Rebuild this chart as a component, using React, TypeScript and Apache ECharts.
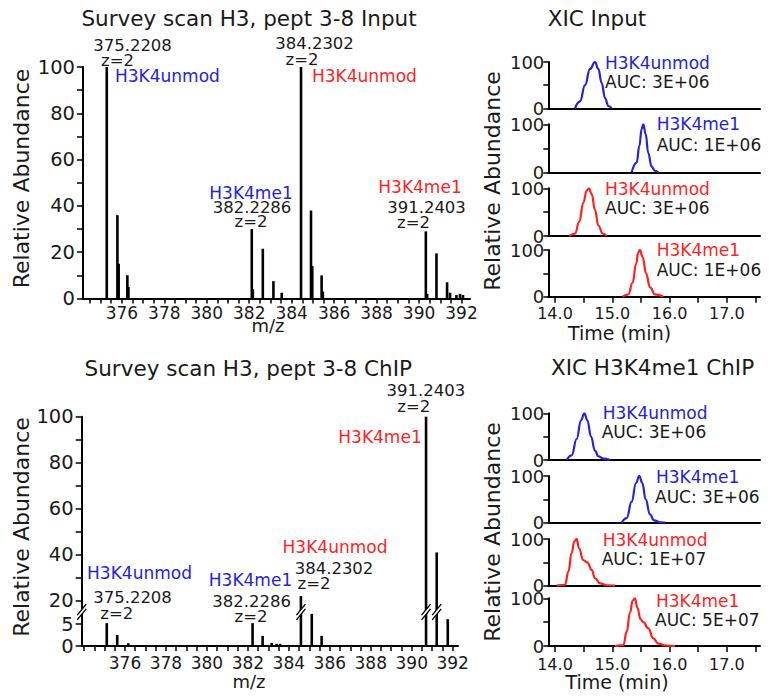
import React, { useEffect, useRef } from 'react';
import * as echarts from 'echarts';

// ---------------- data ----------------
// Survey scan, Input (m/z, relative abundance)
const INPUT_MZ = [375.29, 375.79, 375.85, 376.26, 376.31, 382.12, 382.17, 382.64, 383.14, 383.53, 384.44, 384.91, 384.97, 385.41, 385.47, 390.32, 390.38, 390.82, 391.32, 391.46, 391.76, 391.93, 392.07];
const INPUT_ABUND = [100, 36, 15, 10, 5, 30, 4, 21.5, 7.5, 2.5, 100, 38, 14, 10, 3, 29, 2, 19.5, 7, 2.5, 1.5, 2, 1.5];
// Survey scan, ChIP
const CHIP_MZ = [375.11, 375.62, 376.16, 382.23, 382.72, 383.16, 383.4, 383.57, 384.59, 385.12, 385.6, 390.7, 391.22, 391.76];
const CHIP_ABUND = [5.2, 2.5, 0.6, 5.2, 2.3, 0.7, 0.5, 0.5, 22, 7.3, 2.3, 100, 41, 6.1];

const MZ_LABELS = [376, 378, 380, 382, 384, 386, 388, 390, 392];
const ABUND_LABELS = [0, 20, 40, 60, 80, 100];
const ABUND_UPPER_LABELS = [20, 40, 60, 80, 100];
const ABUND_LOWER_LABELS = [0, 5];
const TIME_LABELS = [14, 15, 16, 17];
const XIC_LABELS = [0, 100];

const PEAK_MZ_TEXT = ['375.2208', '382.2286', '384.2302', '391.2403'];
const CHARGE_TEXT = 'z=2';
const PEPTIDES = ['H3K4unmod', 'H3K4me1'];

// XIC traces: time (min), relative abundance
const IN_UNMOD_L_T = [14.349, 14.436, 14.524, 14.611, 14.698, 14.756, 14.814, 14.873, 14.931, 14.989];
const IN_UNMOD_L_I = [0, 15, 50, 85, 100, 85, 55, 22, 5, 0];
const IN_ME1_L_T = [15.338, 15.425, 15.472, 15.512, 15.541, 15.582, 15.628, 15.686, 15.745, 15.803];
const IN_ME1_L_I = [0, 20, 55, 90, 100, 80, 40, 12, 3, 0];
const IN_UNMOD_H_T = [14.25, 14.349, 14.424, 14.494, 14.553, 14.593, 14.64, 14.698, 14.756, 14.832, 14.902];
const IN_UNMOD_H_I = [0, 5, 30, 70, 95, 100, 88, 55, 22, 5, 0];
const IN_ME1_H_T = [15.181, 15.28, 15.355, 15.414, 15.454, 15.483, 15.53, 15.588, 15.658, 15.745, 15.89];
const IN_ME1_H_I = [0, 5, 30, 70, 95, 100, 85, 50, 20, 5, 0];

const CH_UNMOD_L_T = [14.204, 14.291, 14.378, 14.454, 14.512, 14.565, 14.628, 14.698, 14.756, 14.843, 14.96];
const CH_UNMOD_L_I = [0, 10, 45, 85, 100, 85, 50, 20, 8, 3, 0];
const CH_ME1_L_T = [15.164, 15.251, 15.338, 15.414, 15.472, 15.524, 15.582, 15.658, 15.728, 15.832, 15.92];
const CH_ME1_L_I = [0, 10, 45, 85, 100, 85, 50, 18, 5, 1, 0];
const CH_UNMOD_H_T = [14.029, 14.175, 14.233, 14.291, 14.337, 14.378, 14.419, 14.494, 14.565, 14.64, 14.698, 14.785, 14.902, 15.047];
const CH_UNMOD_H_I = [0, 2, 30, 70, 95, 100, 80, 55, 50, 34, 16, 5, 1, 0];
const CH_ME1_H_T = [15.047, 15.193, 15.251, 15.309, 15.355, 15.396, 15.437, 15.495, 15.541, 15.628, 15.716, 15.803, 15.92, 16.094];
const CH_ME1_H_I = [0, 2, 30, 70, 95, 100, 80, 56, 50, 37, 16, 5, 1, 0];

const INPUT_AUC = ['3E+06', '1E+06', '3E+06', '1E+06'];
const CHIP_AUC = ['3E+06', '3E+06', '1E+07', '5E+07'];

// ---------------- layout / style ----------------
const FONT = '"DejaVu Sans", sans-serif';
const INK = '#1a1a1a';
const BLUE = '#2323d9';
const RED = '#ff1f1f';
const LOWER_MAX = 7.73; // broken axis: lower segment top
const UPPER_MIN = 15.1; // broken axis: upper segment bottom

const zip = (a: number[], b: number[]) => a.map((x, i) => [x, b[i]]);
const steps = (a: number, b: number, s: number) => {
  const r: number[] = [];
  for (let v = a; v <= b + 1e-9; v += s) r.push(+v.toFixed(3));
  return r;
};

const lineStyle = { color: '#000', width: 2 };

function stickRender(lo: number, hi: number) {
  return (params: any, api: any) => {
    const m = api.value(0);
    const v = api.value(1);
    if (v <= lo) return { type: 'group', children: [] };
    const a = api.coord([m, lo]);
    const b = api.coord([m, Math.min(v, hi)]);
    return {
      type: 'rect',
      shape: { x: a[0] - 1.3, y: b[1], width: 2.6, height: a[1] - b[1] },
      style: { fill: '#000' },
    };
  };
}

function breakRender(params: any, api: any) {
  const m = api.value(0);
  const p = api.coord([m, LOWER_MAX]);
  const cx = p[0];
  const cy = p[1];
  const dx = 4.5;
  const dy = 5.5;
  const g = 2.4;
  return {
    type: 'group',
    children: [
      {
        type: 'polygon',
        shape: { points: [[cx - dx, cy + dy - g], [cx + dx, cy - dy - g], [cx + dx, cy - dy + g], [cx - dx, cy + dy + g]] },
        style: { fill: '#fff' },
      },
      { type: 'line', shape: { x1: cx - dx, y1: cy + dy - g, x2: cx + dx, y2: cy - dy - g }, style: { stroke: '#000', lineWidth: 1.4 } },
      { type: 'line', shape: { x1: cx - dx, y1: cy + dy + g, x2: cx + dx, y2: cy - dy + g }, style: { stroke: '#000', lineWidth: 1.4 } },
    ],
  };
}

const XIC_X_MIN = 13.883;
const XIC_X_MAX = 17.578;
const XIC_LEFT = 548.3;
const XIC_WIDTH = 211.7;
const XIC_TOP_GRIDS = [[62, 46.3], [124.3, 48], [188.3, 47.7], [250, 46.7]];
const XIC_BOT_GRIDS = [[413.3, 46.7], [476, 46.7], [539, 46.7], [598.3, 47.7]];
const XIC_COLORS = [BLUE, BLUE, RED, RED];

const XIC_INPUT = [zip(IN_UNMOD_L_T, IN_UNMOD_L_I), zip(IN_ME1_L_T, IN_ME1_L_I), zip(IN_UNMOD_H_T, IN_UNMOD_H_I), zip(IN_ME1_H_T, IN_ME1_H_I)];
const XIC_CHIP = [zip(CH_UNMOD_L_T, CH_UNMOD_L_I), zip(CH_ME1_L_T, CH_ME1_L_I), zip(CH_UNMOD_H_T, CH_UNMOD_H_I), zip(CH_ME1_H_T, CH_ME1_H_I)];

const XIC_NAME_POS_TOP = [[605, 62.7], [656.7, 124.3], [605, 189.3], [656.7, 250]];
const XIC_AUC_POS_TOP = [[605, 81.7], [656.7, 145], [605, 208.3], [656.7, 270]];
const XIC_NAME_POS_BOT = [[602.7, 412.7], [656, 476.7], [602.7, 540], [656, 600.7]];
const XIC_AUC_POS_BOT = [[601.7, 431.7], [655, 496.7], [601.7, 559.3], [655, 620]];

type T = [string, number, number, string, number, string];

function buildTexts(): T[] {
  const t: T[] = [];
  // titles
  t.push(['Survey scan H3, pept 3-8 Input', 249, 18.5, INK, 21.5, 'center']);
  t.push(['XIC Input', 597, 18.5, INK, 21.5, 'center']);
  t.push(['Survey scan H3, pept 3-8 ChIP', 248.3, 368.5, INK, 21.5, 'center']);
  t.push(['XIC H3K4me1 ChIP', 652.5, 367, INK, 21.5, 'center']);
  // axis names
  t.push(['m/z', 268, 325, INK, 18, 'center']);
  t.push(['m/z', 249, 681, INK, 18, 'center']);
  t.push(['Time (min)', 619.5, 333, INK, 19, 'center']);
  t.push(['Time (min)', 617, 681.7, INK, 19, 'center']);
  // top-left peak annotations
  t.push([PEAK_MZ_TEXT[0], 132.5, 45.5, INK, 16.5, 'center']);
  t.push([CHARGE_TEXT, 117.5, 60.5, INK, 16.5, 'center']);
  t.push([PEPTIDES[0], 115, 76, BLUE, 17, 'left']);
  t.push([PEPTIDES[1], 251, 192.5, BLUE, 17, 'center']);
  t.push([PEAK_MZ_TEXT[1], 252, 207, INK, 16.5, 'center']);
  t.push([CHARGE_TEXT, 251, 221.5, INK, 16.5, 'center']);
  t.push([PEAK_MZ_TEXT[2], 314.5, 43.5, INK, 16.5, 'center']);
  t.push([CHARGE_TEXT, 302, 59, INK, 16.5, 'center']);
  t.push([PEPTIDES[0], 312, 75.5, RED, 17, 'left']);
  t.push([PEPTIDES[1], 420, 186.5, RED, 17, 'center']);
  t.push([PEAK_MZ_TEXT[3], 426.5, 207, INK, 16.5, 'center']);
  t.push([CHARGE_TEXT, 413.5, 222, INK, 16.5, 'center']);
  // bottom-left peak annotations
  t.push([PEPTIDES[0], 139.5, 573.3, BLUE, 17, 'center']);
  t.push([PEAK_MZ_TEXT[0], 132.5, 597.3, INK, 16.5, 'center']);
  t.push([CHARGE_TEXT, 116.7, 613.3, INK, 16.5, 'center']);
  t.push([PEPTIDES[1], 250.5, 580, BLUE, 17, 'center']);
  t.push([PEAK_MZ_TEXT[1], 251.7, 601.7, INK, 16.5, 'center']);
  t.push([CHARGE_TEXT, 251, 616.7, INK, 16.5, 'center']);
  t.push([PEPTIDES[0], 335, 546.7, RED, 17, 'center']);
  t.push([PEAK_MZ_TEXT[2], 334, 568.3, INK, 16.5, 'center']);
  t.push([CHARGE_TEXT, 314, 583.3, INK, 16.5, 'center']);
  t.push([PEAK_MZ_TEXT[3], 425.8, 390, INK, 16.5, 'center']);
  t.push([CHARGE_TEXT, 413.8, 406.7, INK, 16.5, 'center']);
  t.push([PEPTIDES[1], 380, 436.7, RED, 17, 'center']);
  // XIC annotations
  for (let i = 0; i < 4; i++) {
    const name = PEPTIDES[i % 2];
    t.push([name, XIC_NAME_POS_TOP[i][0], XIC_NAME_POS_TOP[i][1], XIC_COLORS[i], 17, 'left']);
    t.push(['AUC: ' + INPUT_AUC[i], XIC_AUC_POS_TOP[i][0], XIC_AUC_POS_TOP[i][1], INK, 17, 'left']);
    t.push([name, XIC_NAME_POS_BOT[i][0], XIC_NAME_POS_BOT[i][1], XIC_COLORS[i], 17, 'left']);
    t.push(['AUC: ' + CHIP_AUC[i], XIC_AUC_POS_BOT[i][0], XIC_AUC_POS_BOT[i][1], INK, 17, 'left']);
  }
  return t;
}

function buildOption() {
  const grid: any[] = [
    { left: 83, top: 67, width: 387, height: 231.5 },
    { left: 81.7, top: 416.7, width: 376.3, height: 195.3 },
    { left: 81.7, top: 612, width: 376.3, height: 34 },
  ];
  XIC_TOP_GRIDS.forEach(([top, h]) => grid.push({ left: XIC_LEFT, top, width: XIC_WIDTH, height: h }));
  XIC_BOT_GRIDS.forEach(([top, h]) => grid.push({ left: XIC_LEFT, top, width: XIC_WIDTH, height: h }));
  grid.forEach((g) => { g.outerBoundsMode = 'none'; g.containLabel = false; });

  const mzLabel = (margin: number) => ({
    customValues: MZ_LABELS, fontSize: 17, fontFamily: FONT, color: INK, margin,
  });
  const xAxis: any[] = [
    {
      type: 'value', gridIndex: 0, min: 374.17, max: 392.4, splitLine: { show: false },
      axisLine: { show: true, onZero: false, lineStyle },
      axisTick: { show: true, length: 5, customValues: steps(374.5, 392, 0.5), lineStyle: { color: '#000', width: 1.5 } },
      axisLabel: mzLabel(6),
    },
    { type: 'value', gridIndex: 1, min: 373.886, max: 392.26, show: false },
    {
      type: 'value', gridIndex: 2, min: 373.886, max: 392.26, splitLine: { show: false },
      axisLine: { show: true, onZero: false, lineStyle },
      axisTick: { show: true, length: 5, customValues: steps(374, 392, 0.5), lineStyle: { color: '#000', width: 1.5 } },
      axisLabel: mzLabel(8),
    },
  ];
  const yLabel = (vals: number[]) => ({ customValues: vals, fontSize: 19.5, fontFamily: FONT, color: INK, margin: 8 });
  const yTick = (vals: number[]) => ({ show: true, length: 6, customValues: vals, lineStyle: { color: '#000', width: 1.5 } });
  const yAxis: any[] = [
    { type: 'value', gridIndex: 0, min: 0, max: 100, splitLine: { show: false }, axisLine: { show: true, onZero: false, lineStyle }, axisTick: yTick(steps(0, 100, 10)), axisLabel: yLabel(ABUND_LABELS) },
    { type: 'value', gridIndex: 1, min: UPPER_MIN, max: 100, splitLine: { show: false }, axisLine: { show: true, onZero: false, lineStyle }, axisTick: yTick(steps(20, 100, 10)), axisLabel: yLabel(ABUND_UPPER_LABELS) },
    { type: 'value', gridIndex: 2, min: 0, max: LOWER_MAX, splitLine: { show: false }, axisLine: { show: true, onZero: false, lineStyle }, axisTick: yTick([0, 5]), axisLabel: yLabel(ABUND_LOWER_LABELS) },
  ];

  const series: any[] = [
    { type: 'custom', xAxisIndex: 0, yAxisIndex: 0, renderItem: stickRender(0, 100), data: zip(INPUT_MZ, INPUT_ABUND), encode: { x: 0, y: 1 }, z: 3 },
    { type: 'custom', xAxisIndex: 1, yAxisIndex: 1, renderItem: stickRender(UPPER_MIN, 100), data: zip(CHIP_MZ, CHIP_ABUND), encode: { x: 0, y: 1 }, z: 3 },
    { type: 'custom', xAxisIndex: 2, yAxisIndex: 2, renderItem: stickRender(0, LOWER_MAX), data: zip(CHIP_MZ, CHIP_ABUND), encode: { x: 0, y: 1 }, z: 3 },
    {
      type: 'custom', xAxisIndex: 2, yAxisIndex: 2, renderItem: breakRender, z: 10,
      data: [[373.886, 0]].concat(zip(CHIP_MZ, CHIP_ABUND).filter((d) => d[1] > LOWER_MAX)),
      encode: { x: 0, y: 1 },
    },
  ];

  const addXic = (gridIdx: number, data: number[][], color: string, last: boolean, margin: number) => {
    xAxis.push({
      type: 'value', gridIndex: gridIdx, min: XIC_X_MIN, max: XIC_X_MAX, splitLine: { show: false },
      axisLine: { show: true, onZero: false, lineStyle },
      axisTick: { show: last, length: 6, customValues: steps(14, 17.5, 0.5), lineStyle: { color: '#000', width: 1.5 } },
      axisLabel: { show: last, customValues: TIME_LABELS, formatter: (v: number) => v.toFixed(1), fontSize: 16, fontFamily: FONT, color: INK, margin },
    });
    yAxis.push({
      type: 'value', gridIndex: gridIdx, min: 0, max: 100, splitLine: { show: false },
      axisLine: { show: true, onZero: false, lineStyle },
      axisTick: { show: true, length: 5, customValues: [0, 50, 100], lineStyle: { color: '#000', width: 1.5 } },
      axisLabel: { customValues: XIC_LABELS, fontSize: 18, fontFamily: FONT, color: INK, margin: 4 },
    });
    series.push({
      type: 'line', xAxisIndex: gridIdx, yAxisIndex: gridIdx, data, showSymbol: false, symbol: 'none',
      smooth: 0.45, smoothMonotone: 'x', lineStyle: { color, width: 2.2 }, z: 4,
    });
  };
  XIC_INPUT.forEach((d, i) => addXic(3 + i, d, XIC_COLORS[i], i === 3, 9));
  XIC_CHIP.forEach((d, i) => addXic(7 + i, d, XIC_COLORS[i], i === 3, 10));

  const graphic: any[] = buildTexts().map(([text, x, y, color, size, align]) => ({
    type: 'text', x, y, silent: true,
    style: { text, fill: color, font: `${size}px ${FONT}`, textAlign: align, textVerticalAlign: 'middle' },
  }));
  [[21, 178.5], [492, 181], [21, 527], [492, 532]].forEach(([x, y]) => {
    graphic.push({
      type: 'text', x, y, rotation: Math.PI / 2, silent: true,
      style: { text: 'Relative Abundance', fill: INK, font: `22px ${FONT}`, textAlign: 'center', textVerticalAlign: 'middle' },
    });
  });

  return {
    animation: false,
    backgroundColor: '#ffffff',
    textStyle: { fontFamily: FONT },
    grid, xAxis, yAxis, series, graphic,
  };
}

export default function App() {
  const ref = useRef<HTMLDivElement>(null);
  useEffect(() => {
    if (!ref.current) return;
    const chart = echarts.init(ref.current, undefined, { renderer: 'svg' });
    chart.setOption(buildOption() as any);
    return () => chart.dispose();
  }, []);
  return <div ref={ref} style={{ position: 'absolute', left: 0, top: 0, width: 780, height: 698, background: '#fff' }} />;
}
